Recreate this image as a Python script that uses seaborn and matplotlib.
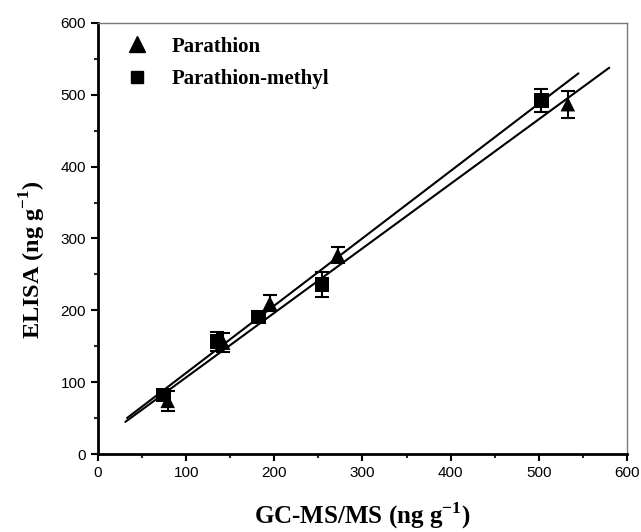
import numpy as np
import pandas as pd
import matplotlib
matplotlib.use("Agg")
import matplotlib.pyplot as plt
import seaborn as sns
from matplotlib.ticker import MultipleLocator
from matplotlib.lines import Line2D

sns.set_theme(style="ticks")
plt.rcParams['font.family'] = ['Liberation Sans', 'DejaVu Sans']
plt.rcParams['mathtext.fontset'] = 'custom'
plt.rcParams['mathtext.rm'] = 'Liberation Serif'
plt.rcParams['mathtext.bf'] = 'Liberation Serif:bold'
plt.rcParams['text.color'] = 'black'
plt.rcParams['axes.labelcolor'] = 'black'

# Data
para_x = [79, 142, 195, 272, 533]
para_y = [74, 155, 210, 277, 487]
para_err = [14, 13, 11, 11, 19]

pm_x = [74, 135, 182, 254, 503]
pm_y = [82, 157, 191, 236, 492]
pm_err = [5, 13, 8, 17, 16]

# regression lines: slope, intercept, x-range
para_fit = (0.898, 16.9, 31, 580)
pm_fit = (0.937, 19.2, 33, 545)

df = pd.DataFrame({
    "x": para_x + pm_x,
    "y": para_y + pm_y,
    "err": para_err + pm_err,
    "compound": ["Parathion"] * len(para_x) + ["Parathion-methyl"] * len(pm_x),
})

fig = plt.figure(figsize=(6.41, 5.32), dpi=100)
ax = fig.add_axes([0.1529, 0.1466, 0.978 - 0.1529, 0.9568 - 0.1466])

for fit in (para_fit, pm_fit):
    s, b, x0, x1 = fit
    lx = np.array([x0, x1])
    sns.lineplot(x=lx, y=s * lx + b, ax=ax, color="black", lw=1.5, legend=False)

for comp in ("Parathion", "Parathion-methyl"):
    d = df[df.compound == comp]
    ax.errorbar(d.x, d.y, yerr=d.err, fmt="none", ecolor="black", elinewidth=1.5,
                capsize=5, capthick=1.5, zorder=3)

sns.scatterplot(data=df, x="x", y="y", style="compound",
                markers={"Parathion": "^", "Parathion-methyl": "s"},
                color="black", s=110, ax=ax, legend=False, zorder=4,
                edgecolor="black", linewidth=0)

ax.set_xlim(0, 600)
ax.set_ylim(0, 600)
ax.xaxis.set_major_locator(MultipleLocator(100))
ax.xaxis.set_minor_locator(MultipleLocator(50))
ax.yaxis.set_major_locator(MultipleLocator(100))
ax.yaxis.set_minor_locator(MultipleLocator(50))
ax.tick_params(which="major", direction="out", length=5, width=1.5, labelsize=11,
               colors="black")
ax.tick_params(which="minor", direction="out", length=3, width=1.5)
ax.tick_params(top=False, right=False, which="both")
for sp in ("left", "bottom"):
    ax.spines[sp].set_linewidth(2)
    ax.spines[sp].set_color("black")
for sp in ("top", "right"):
    ax.spines[sp].set_linewidth(1)
    ax.spines[sp].set_color("#777777")

serif = ['Liberation Serif', 'DejaVu Serif']
ax.set_xlabel(r"GC-MS/MS (ng g$^{\mathbf{-1}}$)", family=serif, fontsize=18,
              fontweight="bold")
ax.set_ylabel(r"ELISA (ng g$^{\mathbf{-1}}$)", family=serif, fontsize=17.5,
              fontweight="bold")
ax.xaxis.set_label_coords(0.5, -0.108, transform=ax.transAxes)
ax.yaxis.set_label_coords(-0.095, 0.45, transform=ax.transAxes)

# legend
handles = [Line2D([], [], marker="^", color="black", ls="none", markersize=11),
           Line2D([], [], marker="s", color="black", ls="none", markersize=8)]
leg = ax.legend(handles, ["Parathion", "Parathion-methyl"], loc="upper left", frameon=False,
                prop={"family": serif, "weight": "bold", "size": 15},
                bbox_to_anchor=(0.007, 1.012), handletextpad=0.85, labelspacing=0.6,
                handlelength=1.6)

fig.savefig("out.png", dpi=100)
